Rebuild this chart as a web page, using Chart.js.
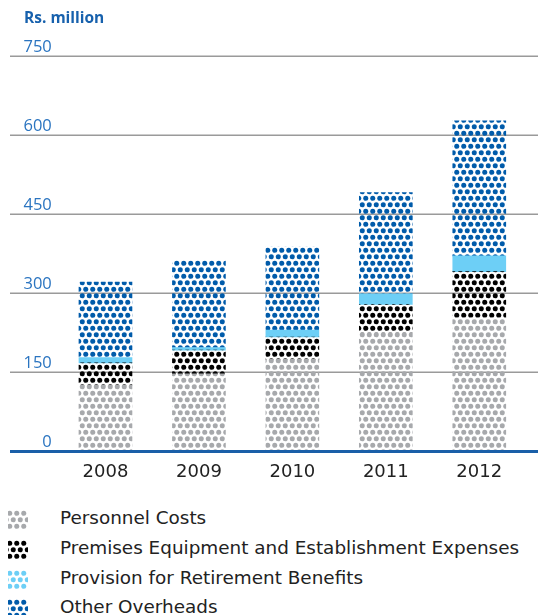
<!DOCTYPE html>
<html lang="en">
<head>
    <meta charset="UTF-8">
    <title>Operating Expenses</title>
    <script src="https://cdn.jsdelivr.net/npm/chart.js@4.4.0/dist/chart.umd.min.js"></script>
    <style>
        body { margin: 0; background: #fff; font-family: 'Open Sans', sans-serif; }
        .wrap { position: relative; width: 538px; height: 615px; overflow: hidden; }
        .unit { position: absolute; left: 24px; top: 6px; font-size: 15.5px; font-weight: bold; color: #1761ad; }
        .chart-box { position: absolute; left: 0; top: 0; width: 538px; height: 493px; }
        .legend { position: absolute; left: 0; top: 507px; }
        .legend-item { position: relative; height: 29.8px; }
        .legend-item canvas { position: absolute; left: 8px; top: 3px; }
        .legend-item span { position: absolute; left: 60px; top: 0px; font-family: 'DejaVu Sans', sans-serif; font-size: 18.4px; color: #222; white-space: nowrap; }
    </style>
</head>
<body>
    <div class="wrap">
        <div class="chart-box"><canvas id="costChart"></canvas></div>
        <div class="unit">Rs. million</div>
        <div class="legend" id="legend"></div>
    </div>

    <script>
        const years = ['2008', '2009', '2010', '2011', '2012'];
        const personnelCosts = [126, 147, 175, 226, 254];
        const premisesCosts = [42, 45, 42, 53, 87];
        const retirementProvision = [10, 5, 13, 20, 30];
        const otherOverheads = [143, 165, 158, 192, 256];
        const yTicks = [0, 150, 300, 450, 600, 750];

        // dotted fill used for the bar segments and legend swatches
        function dots(color) {
            const c = document.createElement('canvas');
            c.width = 7;
            c.height = 13;
            const g = c.getContext('2d');
            g.fillStyle = color;
            [[1.75, 3.25], [5.25, 9.75], [8.75, 3.25], [-1.75, 9.75]].forEach(p => {
                g.beginPath();
                g.arc(p[0], p[1], 2.5, 0, Math.PI * 2);
                g.fill();
            });
            return g.createPattern(c, 'repeat');
        }

        const colors = {
            personnel: '#a7a9ac',
            premises: '#000000',
            retirement: '#6dcff6',
            other: '#005baa'
        };

        // horizontal rules across the full width, blue base line on top of the bars
        const rules = {
            id: 'rules',
            beforeDraw(chart) {
                const ctx = chart.ctx;
                const y = chart.scales.y;
                ctx.save();
                ctx.strokeStyle = '#9a9a9a';
                ctx.lineWidth = 1.5;
                yTicks.forEach(v => {
                    if (v === 0) return;
                    const py = Math.round(y.getPixelForValue(v)) + 0.25;
                    ctx.beginPath();
                    ctx.moveTo(10, py);
                    ctx.lineTo(chart.width, py);
                    ctx.stroke();
                });
                ctx.restore();
            },
            afterDraw(chart) {
                const ctx = chart.ctx;
                const py = chart.scales.y.getPixelForValue(0);
                ctx.save();
                ctx.strokeStyle = '#1a5fa8';
                ctx.lineWidth = 3;
                ctx.beginPath();
                ctx.moveTo(10, py);
                ctx.lineTo(chart.width, py);
                ctx.stroke();
                ctx.restore();
            }
        };

        const chart = new Chart(document.getElementById('costChart'), {
            type: 'bar',
            data: {
                labels: years,
                datasets: [{
                    label: 'Personnel Costs',
                    data: personnelCosts,
                    backgroundColor: dots(colors.personnel),
                    swatch: colors.personnel
                }, {
                    label: 'Premises Equipment and Establishment Expenses',
                    data: premisesCosts,
                    backgroundColor: dots(colors.premises),
                    swatch: colors.premises
                }, {
                    label: 'Provision for Retirement Benefits',
                    data: retirementProvision,
                    backgroundColor: colors.retirement,
                    swatch: colors.retirement
                }, {
                    label: 'Other Overheads',
                    data: otherOverheads,
                    backgroundColor: dots(colors.other),
                    swatch: colors.other
                }]
            },
            options: {
                responsive: true,
                maintainAspectRatio: false,
                animation: false,
                layout: { padding: { top: 56, right: 12, left: 0, bottom: 0 } },
                datasets: { bar: { barThickness: 53, borderWidth: 0 } },
                scales: {
                    x: {
                        stacked: true,
                        grid: { display: false, drawTicks: false },
                        border: { display: false },
                        ticks: {
                            color: '#222',
                            font: { family: 'DejaVu Sans', size: 18 },
                            padding: 10
                        }
                    },
                    y: {
                        stacked: true,
                        min: 0,
                        max: 750,
                        afterBuildTicks(axis) {
                            axis.ticks = yTicks.map(v => ({ value: v }));
                        },
                        afterFit(axis) {
                            axis.width = 58.75;
                        },
                        grid: { display: false, drawTicks: false },
                        border: { display: false },
                        ticks: {
                            color: '#2a74c0',
                            font: { family: 'Open Sans', size: 16.5 },
                            padding: 7,
                            labelOffset: -9
                        }
                    }
                },
                plugins: {
                    legend: { display: false },
                    tooltip: { enabled: false }
                }
            },
            plugins: [rules]
        });

        // legend list under the chart
        const legend = document.getElementById('legend');
        chart.data.datasets.forEach(ds => {
            const item = document.createElement('div');
            item.className = 'legend-item';
            const sw = document.createElement('canvas');
            sw.width = 20;
            sw.height = 19;
            const g = sw.getContext('2d');
            g.fillStyle = dots(ds.swatch);
            g.fillRect(0, 0, 20, 19);
            const text = document.createElement('span');
            text.textContent = ds.label;
            item.appendChild(sw);
            item.appendChild(text);
            legend.appendChild(item);
        });
    </script>
</body>
</html>
